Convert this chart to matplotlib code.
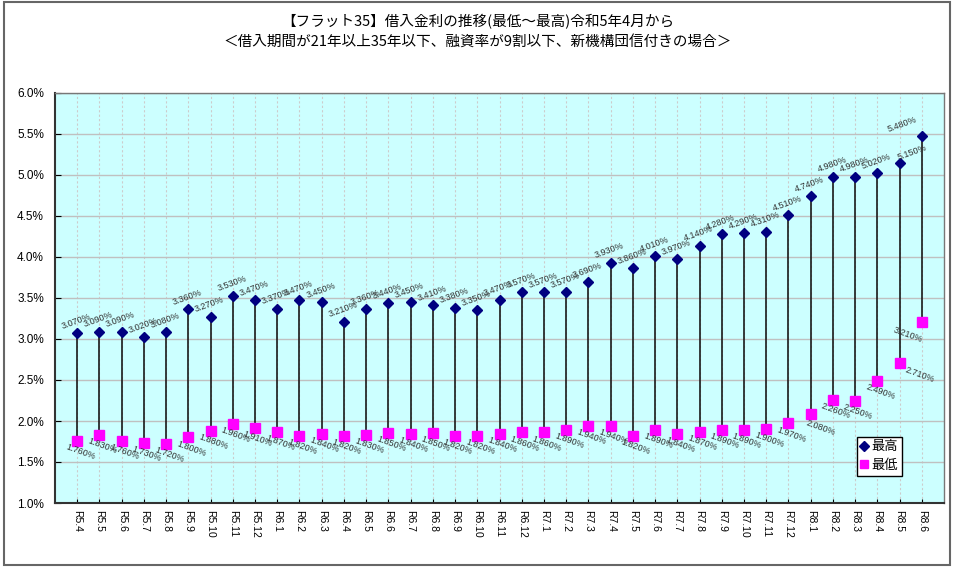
import matplotlib
matplotlib.use("Agg")
import matplotlib.pyplot as plt
from matplotlib.patches import Rectangle
from matplotlib.ticker import FuncFormatter, MultipleLocator

plt.rcParams['font.family'] = ['Liberation Sans', 'Noto Sans CJK JP', 'DejaVu Sans']

# 月（令和）
months = [
    "R5.4", "R5.5", "R5.6", "R5.7", "R5.8", "R5.9", "R5.10", "R5.11", "R5.12",
    "R6.1", "R6.2", "R6.3", "R6.4", "R6.5", "R6.6", "R6.7", "R6.8", "R6.9",
    "R6.10", "R6.11", "R6.12",
    "R7.1", "R7.2", "R7.3", "R7.4", "R7.5", "R7.6", "R7.7", "R7.8", "R7.9",
    "R7.10", "R7.11", "R7.12",
    "R8.1", "R8.2", "R8.3", "R8.4", "R8.5", "R8.6",
]

# 最高金利 (%)
rate_max = [
    3.070, 3.090, 3.090, 3.020, 3.080, 3.360, 3.270, 3.530, 3.470,
    3.370, 3.470, 3.450, 3.210, 3.360, 3.440, 3.450, 3.410, 3.380,
    3.350, 3.470, 3.570,
    3.570, 3.570, 3.690, 3.930, 3.860, 4.010, 3.970, 4.140, 4.280,
    4.290, 4.310, 4.510,
    4.740, 4.980, 4.980, 5.020, 5.150, 5.480,
]

# 最低金利 (%)
rate_min = [
    1.760, 1.830, 1.760, 1.730, 1.720, 1.800, 1.880, 1.960, 1.910,
    1.870, 1.820, 1.840, 1.820, 1.830, 1.850, 1.840, 1.850, 1.820,
    1.820, 1.840, 1.860,
    1.860, 1.890, 1.940, 1.940, 1.820, 1.890, 1.840, 1.870, 1.890,
    1.890, 1.900, 1.970,
    2.080, 2.260, 2.250, 2.490, 2.710, 3.210,
]

title = ("【フラット35】借入金利の推移(最低～最高)令和5年4月から\n"
         "＜借入期間が21年以上35年以下、融資率が9割以下、新機構団信付きの場合＞")

x = list(range(len(months)))

fig = plt.figure(figsize=(9.55, 5.68), dpi=100)
fig.patch.set_facecolor('white')
ax = fig.add_axes([55 / 955, 65 / 568, 889 / 955, 410 / 568])
ax.set_facecolor('#CCFFFF')

# 高低線
ax.vlines(x, rate_min, rate_max, color='#1a1a1a', lw=1.2, zorder=2)

ax.plot(x, rate_max, linestyle='none', marker='D', color='#000080',
        ms=5.5, label='最高', zorder=3)
ax.plot(x, rate_min, linestyle='none', marker='s', color='#FF00FF',
        ms=6.5, label='最低', zorder=3)

# データラベル（重なりを避けた位置だけ個別指定）
max_offsets = {37: (13, 10), 38: (-20, 11)}
min_offsets = {33: (10, -13), 37: (20, -12), 38: (-14, -13)}
for i in x:
    dx, dy = max_offsets.get(i, (-1, 12))
    ax.annotate(f"{rate_max[i]:.3f}%", (i, rate_max[i]), xytext=(dx, dy),
                textcoords='offset pixels', ha='center', va='center',
                rotation=20, fontsize=6.5, color='#333333', zorder=4)
    dx, dy = min_offsets.get(i, (3, -11))
    ax.annotate(f"{rate_min[i]:.3f}%", (i, rate_min[i]), xytext=(dx, dy),
                textcoords='offset pixels', ha='center', va='center',
                rotation=-20, fontsize=6.5, color='#333333', zorder=4)

ax.set_xlim(-1, len(months))
ax.set_ylim(1.0, 6.0)
ax.yaxis.set_major_locator(MultipleLocator(0.5))
ax.yaxis.set_major_formatter(FuncFormatter(lambda v, p: f"{v:.1f}%"))
ax.set_xticks(x)
ax.set_xticklabels(months, rotation=270, fontsize=7.5)
ax.tick_params(axis='y', labelsize=8.5, direction='in', length=4, pad=8)
ax.tick_params(axis='x', direction='in', length=3, pad=5)

ax.grid(axis='y', color='#C0C0C0', lw=1, zorder=0)
ax.grid(axis='x', color='#CCCCCC', lw=0.8, linestyle=(0, (2, 2)), zorder=0)
ax.set_axisbelow(True)

for side in ['top', 'right']:
    ax.spines[side].set_color('#777777')
    ax.spines[side].set_linewidth(1)
for side in ['left', 'bottom']:
    ax.spines[side].set_color('#333333')
    ax.spines[side].set_linewidth(1.5)

leg = ax.legend(loc='upper left', bbox_to_anchor=(0.902, 0.161),
                borderaxespad=0, fancybox=False, framealpha=1,
                edgecolor='black', fontsize=9.5, handlelength=0.5,
                handletextpad=0.3, borderpad=0.3, labelspacing=0.45,
                markerscale=0.9)
leg.get_frame().set_linewidth(1)
leg.set_zorder(5)

fig.text(0.5, 0.975, title, ha='center', va='top', fontsize=10.5,
         linespacing=1.5, family=['Noto Sans CJK JP', 'DejaVu Sans'])

# 外枠
fig.patches.append(Rectangle((0.004, 0.006), 0.991, 0.99, transform=fig.transFigure,
                             fill=False, edgecolor='#666666', lw=1.5))

fig.savefig("out.png", dpi=100)
plt.close(fig)
